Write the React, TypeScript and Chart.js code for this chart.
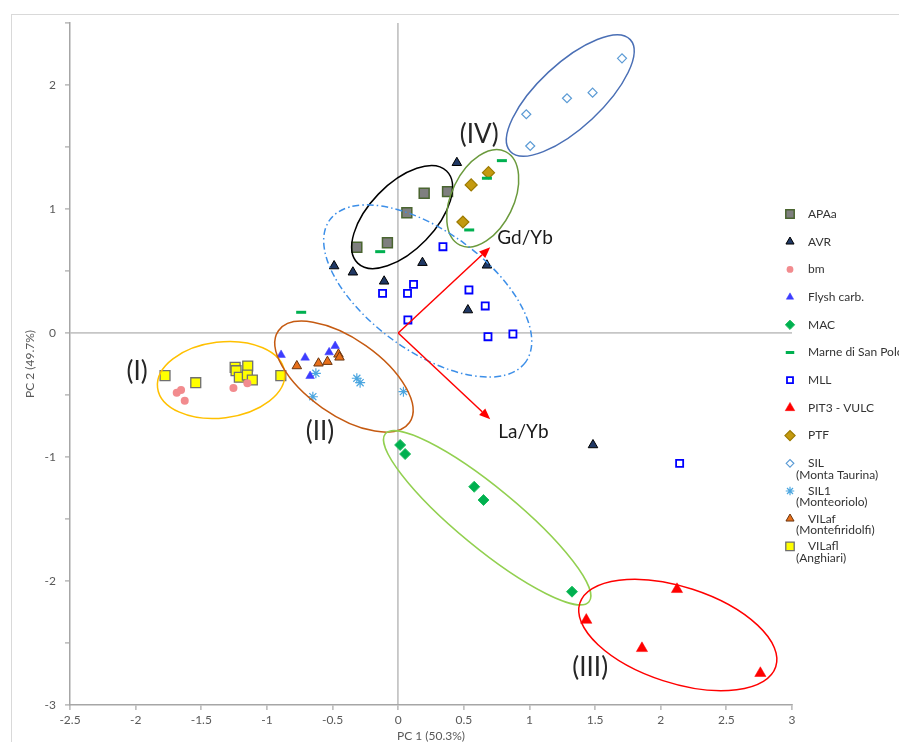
import React, { useEffect, useRef } from 'react';
import { Chart, registerables } from 'chart.js';
import { drawPoint } from 'chart.js/helpers';

Chart.register(...registerables);

const FONT = 'Lato, "Open Sans", "DejaVu Sans", sans-serif';

// ---------- data (PC1, PC2) ----------
const APAa_x = [-0.315, -0.082, 0.066, 0.198, 0.376];
const APAa_y = [0.691, 0.728, 0.97, 1.127, 1.14];

const AVR_x = [0.447, -0.488, -0.345, -0.107, 0.185, 0.676, 0.531, 1.484];
const AVR_y = [1.373, 0.54, 0.49, 0.417, 0.567, 0.546, 0.185, -0.903];

const bm_x = [-1.687, -1.654, -1.626, -1.255, -1.149];
const bm_y = [-0.481, -0.46, -0.546, -0.444, -0.406];

const Flysh_x = [-0.892, -0.709, -0.526, -0.48, -0.671];
const Flysh_y = [-0.177, -0.199, -0.156, -0.105, -0.347];

const MAC_x = [0.015, 0.053, 0.579, 0.65, 1.324];
const MAC_y = [-0.903, -0.976, -1.24, -1.347, -2.086];

const Marne_x = [-0.137, 0.79, 0.676, 0.541, -0.739];
const Marne_y = [0.656, 1.39, 1.248, 0.831, 0.167];

const MLL_x = [0.341, 0.117, 0.071, -0.119, 0.539, 0.663, 0.074, 0.684, 0.874, 2.144];
const MLL_y = [0.696, 0.392, 0.32, 0.32, 0.347, 0.218, 0.105, -0.03, -0.008, -1.051];

const PIT3_x = [2.124, 1.433, 1.857, 2.759];
const PIT3_y = [-2.067, -2.315, -2.543, -2.744];

const PTF_x = [0.688, 0.556, 0.493];
const PTF_y = [1.293, 1.194, 0.895];

const SIL_x = [1.705, 1.481, 1.286, 0.976, 1.006];
const SIL_y = [2.215, 1.938, 1.893, 1.764, 1.508];

const SIL1_x = [-0.627, -0.65, -0.315, -0.29, 0.04];
const SIL1_y = [-0.325, -0.514, -0.365, -0.401, -0.473];

const VILaf_x = [-0.772, -0.607, -0.539, -0.455, -0.447];
const VILaf_y = [-0.266, -0.244, -0.231, -0.172, -0.196];

const VILafl_x = [-1.776, -1.542, -1.242, -1.235, -1.146, -1.21, -1.149, -1.111, -0.894];
const VILafl_y = [-0.344, -0.401, -0.277, -0.304, -0.266, -0.357, -0.339, -0.379, -0.344];

// loading vectors (from origin)
const GdYb_vec = [0.701, 0.691];
const LaYb_vec = [0.701, -0.696];

// group labels
const groupLabels = ['(I)', '(II)', '(III)', '(IV)'];
const groupLabel_x = [-1.989, -0.595, 1.463, 0.617];
const groupLabel_y = [-0.315, -0.798, -2.702, 1.597];

const vecLabels = ['Gd/Yb', 'La/Yb'];
const vecLabel_x = [0.755, 0.762];
const vecLabel_y = [0.77, -0.798];

// ---------- series styling ----------
type S = {
  label: string; sub?: string; xs: number[]; ys: number[];
  style: any; radius: number; bg: string; border: string; bw: number;
};

const SERIES: S[] = [
  { label: 'APAa', xs: APAa_x, ys: APAa_y, style: 'rect', radius: 7, bg: '#7f7f7f', border: '#4a6530', bw: 1.5 },
  { label: 'AVR', xs: AVR_x, ys: AVR_y, style: 'triangle', radius: 5.5, bg: '#203864', border: '#000000', bw: 1 },
  { label: 'bm', xs: bm_x, ys: bm_y, style: 'circle', radius: 4, bg: '#f28b8e', border: '#f28b8e', bw: 0 },
  { label: 'Flysh carb.', xs: Flysh_x, ys: Flysh_y, style: 'triangle', radius: 5, bg: '#3d3dff', border: '#3d3dff', bw: 0.5 },
  { label: 'MAC', xs: MAC_x, ys: MAC_y, style: 'rectRot', radius: 5.5, bg: '#00b050', border: '#1fbe60', bw: 1 },
  { label: 'Marne di San Polo', xs: Marne_x, ys: Marne_y, style: 'line', radius: 5, bg: '#00b050', border: '#00b050', bw: 3 },
  { label: 'MLL', xs: MLL_x, ys: MLL_y, style: 'rect', radius: 5, bg: '#ffffff', border: '#0000ff', bw: 1.8 },
  { label: 'PIT3 - VULC', xs: PIT3_x, ys: PIT3_y, style: 'triangle', radius: 6.5, bg: '#ff0000', border: '#ff0000', bw: 0.5 },
  { label: 'PTF', xs: PTF_x, ys: PTF_y, style: 'rectRot', radius: 6, bg: '#c49a10', border: '#9c7a00', bw: 1.2 },
  { label: 'SIL', sub: '(Monta Taurina)', xs: SIL_x, ys: SIL_y, style: 'rectRot', radius: 4.5, bg: '#ffffff', border: '#5b9bd5', bw: 1.2 },
  { label: 'SIL1', sub: '(Monteoriolo)', xs: SIL1_x, ys: SIL1_y, style: 'star', radius: 5, bg: '#4ba6e0', border: '#4ba6e0', bw: 1.2 },
  { label: 'VILaf', sub: '(Montefiridolfi)', xs: VILaf_x, ys: VILaf_y, style: 'triangle', radius: 5.5, bg: '#e8701a', border: '#6b3510', bw: 1 },
  { label: 'VILafl', sub: '(Anghiari)', xs: VILafl_x, ys: VILafl_y, style: 'rect', radius: 7, bg: '#ffff00', border: '#6f6f6f', bw: 1.3 },
];

// ---------- annotation shapes (centre in data units, radii in px, rotation deg) ----------
const ELLIPSES = [
  { cx: -1.349, cy: -0.379, rx: 64, ry: 38, rot: -7, color: '#ffc000', dash: [] as number[] },
  { cx: -0.413, cy: -0.352, rx: 80, ry: 38, rot: 35, color: '#c55a11', dash: [] },
  { cx: 0.03, cy: 0.935, rx: 64, ry: 33, rot: -46, color: '#000000', dash: [] },
  { cx: 0.644, cy: 1.086, rx: 52, ry: 31, rot: -64, color: '#6b9a3d', dash: [] },
  { cx: 0.225, cy: 0.339, rx: 121, ry: 60, rot: 36, color: '#3d8fe8', dash: [7, 3, 1.5, 3] },
  { cx: 1.311, cy: 1.915, rx: 82, ry: 32, rot: -43, color: '#4a6fb5', dash: [] },
  { cx: 0.678, cy: -1.49, rx: 132, ry: 30, rot: 39.5, color: '#92d050', dash: [] },
  { cx: 2.13, cy: -2.435, rx: 103, ry: 48, rot: 18, color: '#ff0000', dash: [] },
];

const annotationPlugin = {
  id: 'pcaAnnotations',
  afterDatasetsDraw(chart: any) {
    const { ctx, scales } = chart;
    const px = (v: number) => scales.x.getPixelForValue(v);
    const py = (v: number) => scales.y.getPixelForValue(v);
    ctx.save();
    ELLIPSES.forEach((e) => {
      ctx.beginPath();
      ctx.setLineDash(e.dash);
      ctx.strokeStyle = e.color;
      ctx.lineWidth = 1.5;
      ctx.ellipse(px(e.cx), py(e.cy), e.rx, e.ry, (e.rot * Math.PI) / 180, 0, Math.PI * 2);
      ctx.stroke();
    });
    ctx.setLineDash([]);
    [GdYb_vec, LaYb_vec].forEach((v) => {
      const x0 = px(0), y0 = py(0);
      const x1 = px(v[0]), y1 = py(v[1]);
      const ang = Math.atan2(y1 - y0, x1 - x0);
      const hl = 11, hw = 4.5;
      const bx = x1 - hl * Math.cos(ang), by = y1 - hl * Math.sin(ang);
      ctx.strokeStyle = '#ff0000';
      ctx.fillStyle = '#ff0000';
      ctx.lineWidth = 1.5;
      ctx.beginPath();
      ctx.moveTo(x0, y0);
      ctx.lineTo(bx, by);
      ctx.stroke();
      ctx.beginPath();
      ctx.moveTo(x1, y1);
      ctx.lineTo(bx + hw * Math.sin(ang), by - hw * Math.cos(ang));
      ctx.lineTo(bx - hw * Math.sin(ang), by + hw * Math.cos(ang));
      ctx.closePath();
      ctx.fill();
    });
    ctx.fillStyle = '#262626';
    ctx.textBaseline = 'middle';
    ctx.textAlign = 'center';
    ctx.font = `26px ${FONT}`;
    groupLabels.forEach((t, i) => ctx.fillText(t, px(groupLabel_x[i]), py(groupLabel_y[i])));
    ctx.textAlign = 'left';
    ctx.font = `19px ${FONT}`;
    ctx.fillStyle = '#1a1a1a';
    vecLabels.forEach((t, i) => ctx.fillText(t, px(vecLabel_x[i]), py(vecLabel_y[i])));
    ctx.restore();
  },
};

const LEGEND_MARK_X = 790;
const LEGEND_TEXT_X = 808;
const LEGEND_SUB_X = 796;
const LEGEND_TOP = 214;
const LEGEND_STEP = 27.7;

const legendPlugin = {
  id: 'pcaLegend',
  afterDraw(chart: any) {
    const ctx = chart.ctx;
    ctx.save();
    ctx.strokeStyle = '#d9d9d9';
    ctx.lineWidth = 1;
    ctx.strokeRect(11.5, 14.5, 1000, 1000);
    SERIES.forEach((s, i) => {
      const y = LEGEND_TOP + i * LEGEND_STEP;
      ctx.fillStyle = s.bg;
      ctx.strokeStyle = s.border;
      ctx.lineWidth = s.bw;
      drawPoint(ctx, { pointStyle: s.style, radius: s.radius * 0.85, rotation: 0, borderWidth: s.bw } as any, LEGEND_MARK_X, y);
      ctx.fillStyle = '#333333';
      ctx.font = `12px ${FONT}`;
      ctx.textBaseline = 'middle';
      ctx.textAlign = 'left';
      ctx.fillText(s.label, LEGEND_TEXT_X, y);
      if (s.sub) ctx.fillText(s.sub, LEGEND_SUB_X, y + 11.5);
    });
    ctx.restore();
  },
};

export default function App() {
  const ref = useRef<HTMLCanvasElement>(null);
  useEffect(() => {
    const datasets = SERIES.map((s) => ({
      label: s.label,
      data: s.xs.map((x, i) => ({ x, y: s.ys[i] })),
      pointStyle: s.style,
      pointRadius: s.radius,
      pointBackgroundColor: s.bg,
      pointBorderColor: s.border,
      pointBorderWidth: s.bw,
      showLine: false,
    }));
    const tickFont = { family: FONT, size: 12 };
    const chart = new Chart(ref.current as HTMLCanvasElement, {
      type: 'scatter',
      data: { datasets },
      plugins: [annotationPlugin, legendPlugin],
      options: {
        animation: false,
        responsive: false,
        layout: { padding: { left: 0, top: 23, right: 107, bottom: 0 } },
        plugins: { legend: { display: false }, tooltip: { enabled: false } },
        scales: {
          x: {
            type: 'linear',
            min: -2.5,
            max: 3,
            afterFit: (s: any) => { s.height = 37; },
            ticks: {
              stepSize: 0.5, color: '#595959', font: tickFont, padding: 3, maxRotation: 0, autoSkip: false,
              callback: (v: any) => String(Math.round(Number(v) * 10) / 10),
            },
            grid: {
              drawOnChartArea: true,
              color: (c: any) => (c.tick && c.tick.value === 0 ? '#c6c6c6' : 'rgba(0,0,0,0)'),
              lineWidth: 1.8,
              tickColor: '#a6a6a6',
              tickLength: 5,
              tickWidth: 1.2,
            },
            border: { display: true, color: '#a6a6a6', width: 1.5 },
            title: { display: true, text: 'PC 1 (50.3%)', color: '#595959', font: { family: FONT, size: 12, lineHeight: 1 }, padding: { top: 0, bottom: 0 } },
          },
          y: {
            type: 'linear',
            min: -3,
            max: 2.5,
            afterFit: (s: any) => { s.width = 70; },
            ticks: {
              stepSize: 0.5,
              color: '#595959',
              font: tickFont,
              padding: 9,
              autoSkip: false,
              callback: (v: any) => (Number.isInteger(Number(v)) ? String(Number(v)) : ''),
            },
            grid: {
              drawOnChartArea: true,
              color: (c: any) => (c.tick && c.tick.value === 0 ? '#c6c6c6' : 'rgba(0,0,0,0)'),
              lineWidth: 1.8,
              tickColor: '#a6a6a6',
              tickLength: 5,
              tickWidth: 1.2,
            },
            border: { display: true, color: '#a6a6a6', width: 1.5 },
            title: { display: true, text: 'PC 2 (49.7%)', color: '#595959', font: { family: FONT, size: 12, lineHeight: 1 }, padding: { top: 24, bottom: 0 } },
          },
        },
      } as any,
    });
    return () => chart.destroy();
  }, []);
  return (
    <div style={{ position: 'absolute', left: 0, top: 0, width: 899, height: 742, background: '#ffffff', overflow: 'hidden' }}>
      <canvas ref={ref} width={899} height={742} style={{ display: 'block', width: 899, height: 742 }} />
    </div>
  );
}
